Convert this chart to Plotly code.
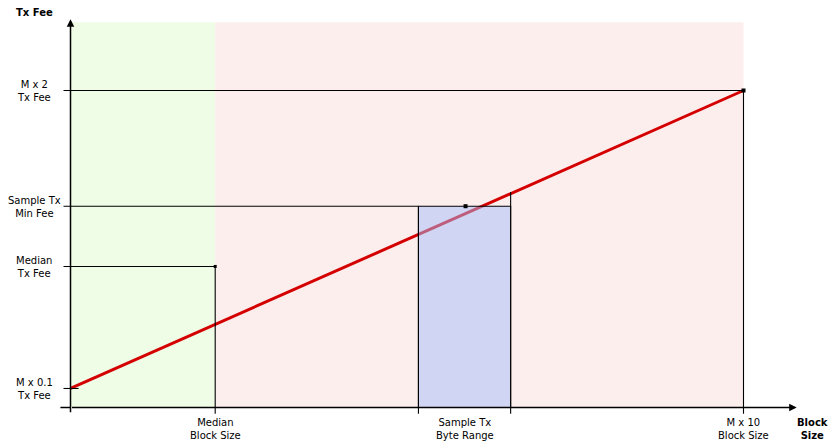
import plotly.graph_objects as go

# ---- data (diagram coordinates) ----
block_ticks = [2.15, 5.17, 6.54, 10.0]
block_labels = ["Median<br>Block Size", "Sample Tx<br>Byte Range", "", "M x 10<br>Block Size"]
block_label_x = [2.15, 5.855, None, 10.0]
fee_ticks = [2.0, 1.27, 0.89, 0.12]
fee_labels = ["M x 2<br>Tx Fee", "Sample Tx<br>Min Fee", "Median<br>Tx Fee", "M x 0.1<br>Tx Fee"]
curve_x = [0.0, 10.0]
curve_y = [0.12, 2.0]
median_block = 2.15
median_fee = 0.89
sample_lo, sample_hi = 5.17, 6.54
sample_fee = 1.27
sample_mid = 5.87
max_block = 10.0
max_fee = 2.0

PX_X = 67.3
PX_Y = 158.5
x_range = [(8 - 70.5) / PX_X, (837 - 70.5) / PX_X]
y_range = [(407.5 - 442) / PX_Y, (407.5 - 8) / PX_Y]

FONT = "DejaVu Sans"
fig = go.Figure()

shapes = []
shapes.append(dict(type="rect", x0=0, x1=median_block, y0=0, y1=2.43, fillcolor="#effce6",
                   line=dict(width=0), layer="below"))
shapes.append(dict(type="rect", x0=median_block, x1=max_block, y0=0, y1=2.43, fillcolor="#fdeeee",
                   line=dict(width=0), layer="below"))

def hline(y, x0, x1):
    shapes.append(dict(type="line", x0=x0, x1=x1, y0=y, y1=y, line=dict(color="black", width=1.1)))
def vline(x, y0, y1):
    shapes.append(dict(type="line", x0=x, x1=x, y0=y0, y1=y1, line=dict(color="black", width=1.1)))

hline(max_fee, -0.104, max_block)
hline(sample_fee, -0.104, sample_lo)
hline(median_fee, -0.104, median_block)
hline(curve_y[0], -0.104, 0.12)
vline(median_block, -0.04, median_fee)
vline(max_block, -0.04, max_fee)
vline(sample_lo, -0.04, sample_fee)
vline(sample_hi, -0.04, 1.36)
shapes.append(dict(type="line", x0=-0.15, x1=0, y0=0, y1=0, line=dict(color="black", width=1.5)))
fig.update_layout(shapes=shapes)

fig.add_trace(go.Scatter(x=curve_x, y=curve_y, mode="lines",
                         line=dict(color="#d40000", width=3), hoverinfo="skip"))
fig.add_shape(type="rect", x0=sample_lo, x1=sample_hi, y0=0, y1=sample_fee,
              fillcolor="rgba(163,188,248,0.5)", line=dict(color="black", width=1.1), layer="above")
for mx, my, half in [(median_block, median_fee, 1.5), (sample_mid, sample_fee, 2), (max_block, max_fee, 2)]:
    fig.add_shape(type="rect", xsizemode="pixel", ysizemode="pixel", xanchor=mx, yanchor=my,
                  x0=-half, x1=half, y0=-half, y1=half, fillcolor="black",
                  line=dict(width=0), layer="above")

ann = []
ann.append(dict(x=0, y=2.449, ax=0, ay=-0.04, xref="x", yref="y", axref="x", ayref="y",
                showarrow=True, arrowhead=2, arrowsize=1, arrowwidth=1.5, arrowcolor="black", text=""))
ann.append(dict(x=10.79, y=0, ax=0, ay=0, xref="x", yref="y", axref="x", ayref="y",
                showarrow=True, arrowhead=2, arrowsize=1, arrowwidth=1.5, arrowcolor="black", text=""))
for xv, lab in zip(block_label_x, block_labels):
    if xv is None or not lab:
        continue
    ann.append(dict(x=xv, y=-0.05, xref="x", yref="y", text=lab, showarrow=False,
                    xanchor="center", yanchor="top", align="center",
                    font=dict(family=FONT, size=10, color="black")))
for yv, lab in zip(fee_ticks, fee_labels):
    ann.append(dict(x=-0.54, y=yv - 0.005, xref="x", yref="y", text=lab, showarrow=False,
                    xanchor="center", yanchor="middle", align="center",
                    font=dict(family=FONT, size=10, color="black")))
ann.append(dict(x=-0.54, y=2.49, xref="x", yref="y", text="<b>Tx Fee</b>", showarrow=False,
                xanchor="center", yanchor="middle", font=dict(family=FONT, size=10, color="black")))
ann.append(dict(x=11.02, y=-0.05, xref="x", yref="y", text="<b>Block<br>Size</b>", showarrow=False,
                xanchor="center", yanchor="top", align="center", font=dict(family=FONT, size=10, color="black")))

fig.update_layout(
    annotations=ann,
    width=829, height=434,
    margin=dict(l=0, r=0, t=0, b=0, pad=0),
    paper_bgcolor="white", plot_bgcolor="white",
    showlegend=False,
    xaxis=dict(range=x_range, visible=False, fixedrange=True),
    yaxis=dict(range=y_range, visible=False, fixedrange=True),
)
fig.write_html("out.html")
